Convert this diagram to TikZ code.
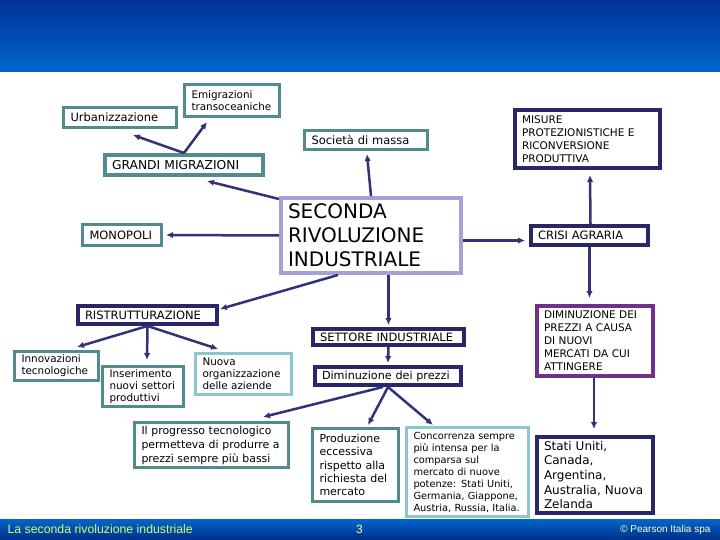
\documentclass[tikz,border=0pt]{standalone}
\usepackage{fontspec}
\setmainfont{DejaVu Sans}
\newfontfamily\footfont{Liberation Sans}
\usetikzlibrary{arrows.meta}
\definecolor{hdtop}{RGB}{0,51,153}
\definecolor{hdbot}{RGB}{0,102,204}
\definecolor{tealc}{RGB}{80,140,140}
\definecolor{lteal}{RGB}{140,198,206}
\definecolor{navyc}{RGB}{40,40,105}
\definecolor{lavc}{RGB}{162,162,212}
\definecolor{purc}{RGB}{110,50,140}
\definecolor{arrc}{RGB}{50,50,120}
\definecolor{footg}{RGB}{204,255,102}
\definecolor{footy}{RGB}{255,255,153}

\begin{document}
\begin{tikzpicture}[x=1pt,y=-1pt,>={Latex[length=7pt,width=6.5pt]},
  tbox/.style={draw=tealc,line width=3pt,fill=white,inner xsep=7pt,inner ysep=1pt,align=left},
  nbox/.style={draw=navyc,line width=4pt,fill=white,inner xsep=7pt,inner ysep=1pt,align=left},
  lbox/.style={draw=lteal,line width=3pt,fill=white,inner xsep=7pt,inner ysep=1pt,align=left},
  arr/.style={->,draw=arrc,line width=2.5pt},
  fsmall/.style={font=\fontsize{10.4}{12}\selectfont},
  fmid/.style={font=\fontsize{11.5}{13.5}\selectfont}]
\useasboundingbox (0,0) rectangle (720,540);
\shade[top color=hdtop,bottom color=hdbot] (0,0) rectangle (720,72);
\shade[top color=hdbot,bottom color=hdtop!90!black] (0,519) rectangle (720,540);
\node[text=footg,font=\fontsize{12.3}{14}\selectfont\footfont,anchor=west] (ftitle) at (4,529.5) {La seconda rivoluzione industriale};
\node[text=footy,font=\fontsize{12}{14}\selectfont\footfont] (fpage) at (359.5,529.5) {3};
\node[text=footy!60!white,font=\fontsize{10}{12}\selectfont\footfont,anchor=east] (fcopy) at (714,529.5) {\textcopyright\ Pearson Italia spa};

\node[tbox,fmid,text width=99pt,minimum height=20pt] (urb) at (120,117.5) {Urbanizzazione};
\node[tbox,text width=81pt,minimum height=32pt,font=\fontsize{10.4}{12.7}\selectfont] (emi) at (232,100.5) {Emigrazioni\\transoceaniche};
\node[tbox,line width=4pt,text width=144pt,minimum height=20pt,font=\fontsize{12.3}{14}\selectfont] (gm) at (184,165) {GRANDI MIGRAZIONI};
\node[tbox,fmid,text width=109pt,minimum height=19pt] (soc) at (366,140) {Società di massa};
\node[nbox,text width=131pt,minimum height=58pt,font=\fontsize{10.5}{13}\selectfont] (mis) at (587.5,139) {MISURE\\PROTEZIONISTICHE E\\RICONVERSIONE\\PRODUTTIVA};
\node[draw=lavc,line width=4pt,fill=white,inner xsep=7pt,align=left,text width=166pt,minimum height=75pt,font=\fontsize{20}{24}\selectfont] (sec) at (371,235.5) {SECONDA\\RIVOLUZIONE\\INDUSTRIALE};
\node[nbox,fmid,text width=103pt,minimum height=19pt] (cri) at (589.5,235.5) {CRISI AGRARIA};
\node[tbox,fmid,text width=65pt,minimum height=21pt] (mon) at (122,235) {MONOPOLI};
\node[nbox,fmid,text width=125pt,minimum height=18pt] (ris) at (147.5,315) {RISTRUTTURAZIONE};
\node[tbox,fsmall,text width=70pt,minimum height=29pt] (inn) at (56.5,366) {Innovazioni\\tecnologiche};
\node[tbox,fsmall,text width=67pt,minimum height=40pt] (ins) at (143,386.5) {Inserimento\\nuovi settori\\produttivi};
\node[lbox,fsmall,text width=82pt,minimum height=41pt] (nuo) at (243.5,374) {Nuova\\organizzazione\\delle aziende};
\node[nbox,fmid,text width=137pt,minimum height=16pt] (set) at (388.5,337) {SETTORE INDUSTRIALE};
\node[nbox,text width=132pt,minimum height=18pt,font=\fontsize{11.2}{13}\selectfont] (dim) at (388,376) {Diminuzione dei prezzi};
\node[tbox,text width=140pt,minimum height=45pt,font=\fontsize{10.9}{14}\selectfont] (pro) at (211.5,445) {Il progresso tecnologico\\permetteva di produrre a\\prezzi sempre più bassi};
\node[tbox,text width=72pt,minimum height=73pt,font=\fontsize{11}{13.3}\selectfont] (prd) at (355.5,465) {Produzione\\eccessiva\\rispetto alla\\richiesta del\\mercato};
\node[lbox,text width=108pt,minimum height=89pt,font=\fontsize{9.8}{12}\selectfont] (con) at (467.5,472) {Concorrenza sempre\\più intensa per la\\comparsa sul\\mercato di nuove\\potenze: Stati Uniti,\\Germania, Giappone,\\Austria, Russia, Italia.};
\node[draw=purc,line width=4pt,fill=white,inner xsep=7pt,align=left,text width=102pt,minimum height=70pt,font=\fontsize{10.5}{13}\selectfont] (dip) at (595,341) {DIMINUZIONE DEI\\PREZZI A CAUSA\\DI NUOVI\\MERCATI DA CUI\\ATTINGERE};
\node[nbox,text width=102pt,minimum height=76pt,font=\fontsize{12}{14.6}\selectfont] (sta) at (595,475) {Stati Uniti,\\Canada,\\Argentina,\\Australia, Nuova\\Zelanda};

\draw[arr] (gm.north) -- ([xshift=13pt,yshift=-6pt]urb.south);
\draw[arr] (gm.north) -- ([xshift=-25pt,yshift=-4pt]emi.south);
\draw[arr] ([yshift=-3pt]sec.north west) -- ([xshift=23pt,yshift=-4pt]gm.south);
\draw[arr] (sec.north) -- ([xshift=1pt,yshift=-3pt]soc.south);
\draw[arr] (sec.west) -- ([xshift=3pt]mon.east);
\draw[arr] ([xshift=-33pt]sec.south) -- ([xshift=1pt,yshift=6pt]ris.east);
\draw[arr] ([yshift=-5pt]sec.east) -- ([xshift=-4pt,yshift=-5pt]cri.west);
\draw[arr] (sec.south -| set.north) -- ([yshift=2pt]set.north);
\draw[arr] ([xshift=1pt]cri.north) -- ([xshift=2.5pt,yshift=-5pt]mis.south);
\draw[arr] (cri.south) -- ([xshift=-5.5pt,yshift=6pt]dip.north);
\draw[arr] ([xshift=-1pt]dip.south) -- ([xshift=-1pt,yshift=6pt]sta.north);
\draw[arr] (ris.south) -- ([xshift=20.5pt,yshift=3pt]inn.north);
\draw[arr] (ris.south) -- ([xshift=4pt,yshift=5pt]ins.north);
\draw[arr] (ris.south) -- ([xshift=-25.5pt,yshift=3pt]nuo.north);
\draw[arr] (set.south) -- ([yshift=2pt]dim.north);
\draw[arr] ([xshift=-5pt]dim.south) -- ([xshift=51.5pt,yshift=4pt]pro.north);
\draw[arr] (dim.south) -- ([xshift=12.5pt,yshift=2pt]prd.north);
\draw[arr] (dim.south) -- ([xshift=-34.5pt,yshift=1pt]con.north);
\end{tikzpicture}
\end{document}
